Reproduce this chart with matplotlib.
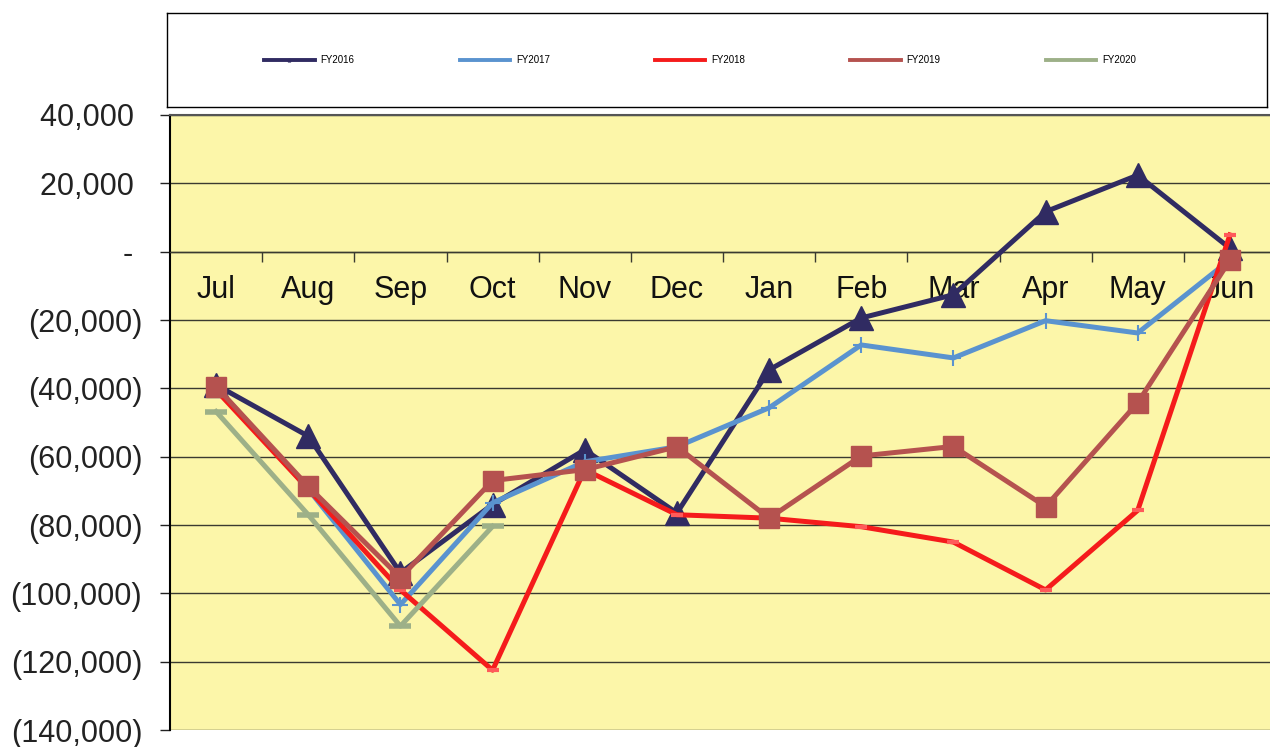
import numpy as np
import matplotlib
matplotlib.use('Agg')
import matplotlib.pyplot as plt
from matplotlib.lines import Line2D
from matplotlib.ticker import FixedLocator, FuncFormatter

plt.rcParams['font.family'] = ['Liberation Sans', 'DejaVu Sans']

# datos
months = ['Jul', 'Aug', 'Sep', 'Oct', 'Nov', 'Dec', 'Jan', 'Feb', 'Mar', 'Apr', 'May', 'Jun']
fy2016 = [-39000, -54000, -94000, -74000, -58000, -76500, -34600, -19400, -12600, 11700, 22400, 1000]
fy2017 = [-39500, -69500, -103300, -73500, -61500, -57100, -45700, -27300, -31100, -20200, -23800, -2400]
fy2018 = [-40500, -69500, -99000, -122500, -63800, -77000, -78000, -80500, -85000, -99000, -75700, 4900]
fy2019 = [-39500, -68700, -95400, -67000, -63800, -57100, -78000, -59800, -57000, -74600, -44200, -2500]
fy2020 = [-46800, -77000, -109600, -80400]
y_ticks = [40000, 20000, 0, -20000, -40000, -60000, -80000, -100000, -120000, -140000]

c16 = '#302B62'
c17 = '#5A93CF'
c18 = '#F51B1B'
c19 = '#B5524F'
c20 = '#9DB088'

fig = plt.figure(figsize=(12.7, 7.47), dpi=100)
ax = fig.add_axes([170 / 1270, 1 - 730 / 747, 1106 / 1270, 615 / 747])
ax.set_facecolor('#FCF6A9')

x = np.arange(len(months))
lw = 3.6
ax.plot(x, fy2016, color=c16, lw=lw, marker='^', ms=17, zorder=3)
ax.plot(x, fy2017, color=c17, lw=lw, marker='+', ms=12, mew=1.5, zorder=4)
ax.plot(x, fy2018, color=c18, lw=lw, marker='_', ms=9, mew=3, mec='#FF5A5A', zorder=5)
ax.plot(x, fy2019, color=c19, lw=lw, marker='s', ms=15, zorder=6)
ax.plot(np.arange(len(fy2020)), fy2020, color=c20, lw=lw, marker='_', ms=16, mew=4, zorder=7)

ax.set_xlim(-0.5, 11.5)
ax.set_ylim(-140000, 40000)

def fmt(v, pos):
    if v == 0:
        return '- '
    if v < 0:
        return '({:,.0f})'.format(-v)
    return '{:,.0f} '.format(v)

ax.yaxis.set_major_locator(FixedLocator(y_ticks))
ax.yaxis.set_major_formatter(FuncFormatter(fmt))
ax.tick_params(axis='y', labelsize=22, length=7, width=1, pad=13, colors='#222222')
ax.grid(axis='y', color='#3A3A30', lw=1)

ax.spines['bottom'].set_position(('data', 0))
ax.spines['bottom'].set_color('#3A3A30')
ax.spines['bottom'].set_linewidth(1)
ax.spines['left'].set_color('black')
ax.spines['left'].set_linewidth(1.5)
ax.spines['top'].set_color('#555555')
ax.spines['top'].set_linewidth(1.5)
ax.spines['right'].set_visible(False)

ax.set_xticks(x)
ax.set_xticklabels(months)
ax.set_xticks(np.arange(0.5, 11.5, 1), minor=True)
ax.tick_params(axis='x', which='major', length=0, labelsize=22, pad=17, colors='#111111')
ax.tick_params(axis='x', which='minor', length=7, width=1, color='#3A3A30', direction='out')
ax.set_axisbelow(True)

# caja de la leyenda
lax = fig.add_axes([167 / 1270, 1 - 107 / 747, 1100 / 1270, 94 / 747])
lax.set_xticks([])
lax.set_yticks([])
for s in lax.spines.values():
    s.set_color('black')
    s.set_linewidth(1)
handles = [
    Line2D([], [], color=c16, lw=2.8, marker='^', ms=2),
    Line2D([], [], color=c17, lw=2.8),
    Line2D([], [], color=c18, lw=2.8),
    Line2D([], [], color=c19, lw=2.8),
    Line2D([], [], color=c20, lw=2.8),
]
lax.legend(handles, ['FY2016', 'FY2017', 'FY2018', 'FY2019', 'FY2020'],
           loc='center', bbox_to_anchor=(0.5 - 17 / 1100, 0.5), ncol=5, frameon=False,
           fontsize=7, handlelength=5.2, handletextpad=0.6, columnspacing=10.8)

fig.savefig('out.png', dpi=100)
